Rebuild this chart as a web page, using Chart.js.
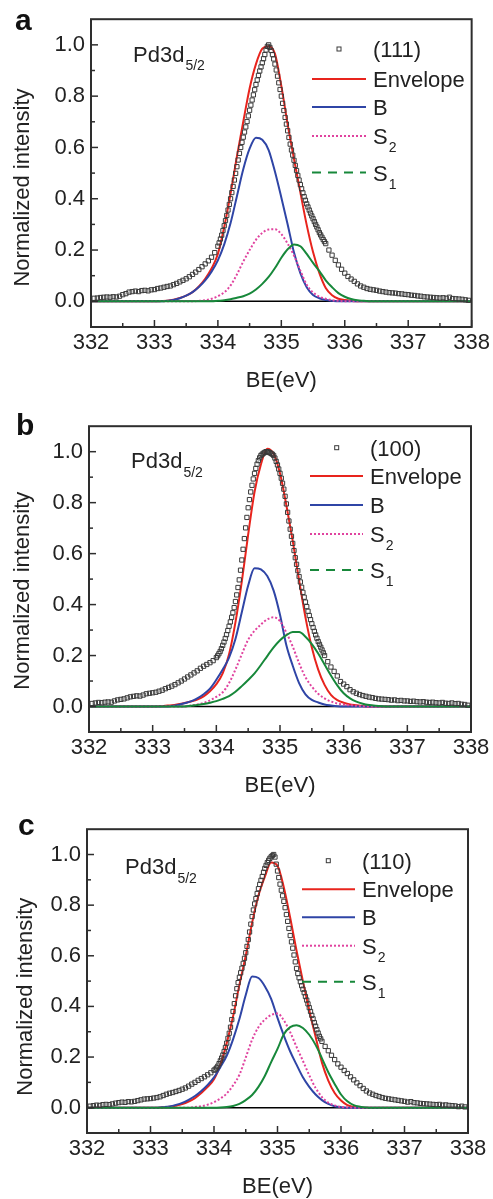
<!DOCTYPE html>
<html>
<head>
<meta charset="utf-8">
<script src="https://cdn.jsdelivr.net/npm/chart.js@4/dist/chart.umd.min.js"></script>
<style>
  html, body { margin: 0; padding: 0; background: #fff; }
  body { width: 493px; height: 1199px; position: relative; overflow: hidden; }
  canvas { position: absolute; left: 0; }
</style>
</head>
<body>
<canvas id="chartA" width="493" height="400" style="top:0px"></canvas>
<canvas id="chartB" width="493" height="400" style="top:407px"></canvas>
<canvas id="chartC" width="493" height="389" style="top:810px"></canvas>
<script>
// axis ticks
const xTicks = [332, 333, 334, 335, 336, 337, 338];
const xMinor = [332.5, 333.5, 334.5, 335.5, 336.5, 337.5];
const yTicks = [0, 0.2, 0.4, 0.6, 0.8, 1.0];
const yMinor = [0.1, 0.3, 0.5, 0.7, 0.9];

const panelLetters = ['a', 'b', 'c'];
const sampleNames = ['(111)', '(100)', '(110)'];
const curveNames = ['Envelope', 'B', 'S', 'S'];
const curveSubs = ['', '', '2', '1'];

// measured spectra (binding energy in eV), finer sampling across the peak
const measuredBE = [
  332.05, 332.10, 332.15, 332.20, 332.25, 332.30, 332.35, 332.40, 332.45, 332.50,
  332.55, 332.60, 332.65, 332.70, 332.75, 332.80, 332.85, 332.90, 332.95, 333.00,
  333.05, 333.10, 333.15, 333.20, 333.25, 333.30, 333.35, 333.40, 333.45, 333.50,
  333.55, 333.60, 333.65, 333.70, 333.75, 333.80, 333.85, 333.90, 333.95,
  334.00, 334.02, 334.04, 334.06, 334.08, 334.10, 334.12, 334.14, 334.16, 334.18,
  334.20, 334.22, 334.24, 334.26, 334.28, 334.30, 334.32, 334.34, 334.36, 334.38,
  334.40, 334.42, 334.44, 334.46, 334.48, 334.50, 334.52, 334.54, 334.56, 334.58,
  334.60, 334.62, 334.64, 334.66, 334.68, 334.70, 334.72, 334.74, 334.76, 334.78,
  334.80, 334.82, 334.84, 334.86, 334.88, 334.90, 334.92, 334.94, 334.96, 334.98,
  335.00, 335.02, 335.04, 335.06, 335.08, 335.10, 335.12, 335.14, 335.16, 335.18,
  335.20, 335.22, 335.24, 335.26, 335.28, 335.30, 335.32, 335.34, 335.36, 335.38,
  335.40, 335.42, 335.44, 335.46, 335.48, 335.50, 335.52, 335.54, 335.56, 335.58,
  335.60, 335.62, 335.64, 335.66, 335.68, 335.70,
  335.75, 335.80, 335.85, 335.90, 335.95, 336.00,
  336.05, 336.10, 336.15, 336.20, 336.25, 336.30, 336.35, 336.40, 336.45, 336.50,
  336.55, 336.60, 336.65, 336.70, 336.75, 336.80, 336.85, 336.90, 336.95, 337.00,
  337.05, 337.10, 337.15, 337.20, 337.25, 337.30, 337.35, 337.40, 337.45, 337.50,
  337.55, 337.60, 337.65, 337.70, 337.75, 337.80, 337.85, 337.90, 337.95
];

const measuredA = [
  0.012, 0.013, 0.015, 0.016, 0.017, 0.016, 0.018, 0.017, 0.020, 0.026,
  0.030, 0.036, 0.038, 0.040, 0.038, 0.042, 0.043, 0.041, 0.045, 0.046,
  0.050, 0.052, 0.055, 0.058, 0.060, 0.065, 0.070, 0.076, 0.082, 0.088,
  0.096, 0.105, 0.114, 0.124, 0.135, 0.146, 0.158, 0.172, 0.190,
  0.215, 0.228, 0.243, 0.258, 0.276, 0.295, 0.315, 0.335, 0.356, 0.378,
  0.400, 0.424, 0.448, 0.473, 0.499, 0.525, 0.551, 0.577, 0.600, 0.620,
  0.640, 0.660, 0.680, 0.701, 0.723, 0.745, 0.765, 0.785, 0.805, 0.825,
  0.845, 0.863, 0.881, 0.898, 0.914, 0.930, 0.946, 0.962, 0.980, 0.994,
  1.000, 0.990, 0.978, 0.962, 0.945, 0.925, 0.902, 0.878, 0.852, 0.826,
  0.800, 0.772, 0.744, 0.717, 0.691, 0.665, 0.639, 0.613, 0.590, 0.570,
  0.550, 0.530, 0.510, 0.491, 0.473, 0.455, 0.439, 0.423, 0.408, 0.394,
  0.380, 0.368, 0.356, 0.344, 0.333, 0.322, 0.311, 0.300, 0.290, 0.279,
  0.268, 0.259, 0.250, 0.241, 0.233, 0.225,
  0.200, 0.180, 0.160, 0.142, 0.125, 0.110,
  0.097, 0.087, 0.078, 0.068, 0.060, 0.055, 0.050, 0.047, 0.045, 0.043,
  0.040, 0.038, 0.036, 0.034, 0.033, 0.032, 0.030, 0.029, 0.027, 0.026,
  0.024, 0.023, 0.021, 0.020, 0.018, 0.017, 0.016, 0.015, 0.014, 0.013,
  0.014, 0.012, 0.016, 0.011, 0.010, 0.009, 0.008, 0.006, 0.004
];

const measuredB = [
  0.012, 0.014, 0.016, 0.015, 0.017, 0.018, 0.017, 0.022, 0.026, 0.028,
  0.030, 0.034, 0.038, 0.040, 0.042, 0.041, 0.045, 0.050, 0.052, 0.054,
  0.056, 0.060, 0.064, 0.070, 0.075, 0.080, 0.086, 0.093, 0.100, 0.108,
  0.116, 0.124, 0.132, 0.140, 0.150, 0.158, 0.165, 0.172, 0.180,
  0.192, 0.199, 0.207, 0.216, 0.227, 0.240, 0.253, 0.267, 0.282, 0.298,
  0.315, 0.332, 0.350, 0.368, 0.388, 0.412, 0.438, 0.467, 0.497, 0.535,
  0.575, 0.617, 0.659, 0.701, 0.742, 0.780, 0.812, 0.842, 0.868, 0.893,
  0.915, 0.934, 0.951, 0.965, 0.976, 0.985, 0.990, 0.994, 0.997, 1.000,
  1.000, 0.998, 0.996, 0.993, 0.990, 0.985, 0.975, 0.962, 0.948, 0.932,
  0.915, 0.896, 0.876, 0.853, 0.825, 0.795, 0.762, 0.728, 0.696, 0.668,
  0.640, 0.612, 0.584, 0.558, 0.533, 0.510, 0.489, 0.468, 0.448, 0.429,
  0.410, 0.392, 0.374, 0.357, 0.341, 0.325, 0.310, 0.295, 0.281, 0.268,
  0.255, 0.244, 0.233, 0.222, 0.211, 0.200,
  0.176, 0.155, 0.138, 0.120, 0.098, 0.088,
  0.078, 0.066, 0.058, 0.052, 0.047, 0.043, 0.040, 0.037, 0.035, 0.032,
  0.030, 0.029, 0.028, 0.027, 0.025, 0.026, 0.023, 0.024, 0.022, 0.022,
  0.020, 0.021, 0.019, 0.018, 0.019, 0.017, 0.016, 0.017, 0.015, 0.014,
  0.016, 0.013, 0.012, 0.014, 0.011, 0.012, 0.009, 0.008, 0.005
];

const measuredC = [
  0.006, 0.008, 0.010, 0.009, 0.012, 0.013, 0.012, 0.015, 0.018, 0.020,
  0.022, 0.021, 0.024, 0.023, 0.025, 0.028, 0.031, 0.034, 0.035, 0.036,
  0.038, 0.040, 0.043, 0.048, 0.053, 0.057, 0.060, 0.064, 0.068, 0.073,
  0.078, 0.085, 0.093, 0.100, 0.108, 0.115, 0.122, 0.130, 0.138,
  0.148, 0.152, 0.157, 0.164, 0.174, 0.185, 0.196, 0.208, 0.222, 0.238,
  0.255, 0.274, 0.294, 0.318, 0.348, 0.380, 0.411, 0.442, 0.470, 0.494,
  0.515, 0.533, 0.551, 0.570, 0.590, 0.612, 0.637, 0.664, 0.694, 0.725,
  0.755, 0.781, 0.805, 0.826, 0.846, 0.865, 0.882, 0.898, 0.913, 0.930,
  0.945, 0.957, 0.968, 0.977, 0.985, 0.991, 0.996, 1.000, 0.990, 0.962,
  0.935, 0.909, 0.883, 0.859, 0.837, 0.815, 0.790, 0.763, 0.736, 0.708,
  0.680, 0.655, 0.630, 0.603, 0.576, 0.550, 0.530, 0.513, 0.497, 0.482,
  0.468, 0.454, 0.439, 0.425, 0.410, 0.395, 0.380, 0.365, 0.351, 0.336,
  0.322, 0.308, 0.295, 0.282, 0.272, 0.262,
  0.242, 0.225, 0.207, 0.190, 0.173, 0.160,
  0.147, 0.135, 0.122, 0.110, 0.098, 0.087, 0.076, 0.066, 0.058, 0.053,
  0.048, 0.044, 0.040, 0.037, 0.035, 0.033, 0.031, 0.029, 0.027, 0.025,
  0.022, 0.024, 0.020, 0.019, 0.017, 0.016, 0.015, 0.014, 0.013, 0.012,
  0.013, 0.010, 0.011, 0.009, 0.008, 0.007, 0.004, 0.006, 0.003
];

// fitted components, all on the same energy grid
const fitBE = [
  332.0, 332.5, 333.0,
  333.1, 333.2, 333.3, 333.4, 333.5, 333.6, 333.7, 333.8, 333.9,
  334.0, 334.1, 334.2, 334.3, 334.4, 334.5, 334.6, 334.7, 334.8, 334.9,
  335.0, 335.1, 335.2, 335.3, 335.4, 335.5, 335.6, 335.7, 335.8, 335.9,
  336.0, 336.1, 336.2, 336.3, 336.4, 336.5, 336.6, 336.7,
  337.0, 337.5, 338.0
];

const envelopeA = [
  0, 0, 0,
  0.001, 0.002, 0.006, 0.013, 0.022, 0.036, 0.058, 0.088, 0.128,
  0.185, 0.290, 0.420, 0.565, 0.700, 0.830, 0.925, 0.985, 0.995, 0.965,
  0.840, 0.690, 0.555, 0.425, 0.298, 0.192, 0.110, 0.052, 0.024, 0.010,
  0.005, 0.002, 0, 0, 0, 0, 0, 0,
  0, 0, 0
];
const bulkA = [
  0, 0, 0,
  0, 0.002, 0.005, 0.012, 0.022, 0.036, 0.056, 0.082, 0.116,
  0.160, 0.222, 0.305, 0.410, 0.515, 0.595, 0.638, 0.630, 0.590, 0.505,
  0.405, 0.300, 0.190, 0.110, 0.055, 0.025, 0.012, 0.005, 0.002, 0,
  0, 0, 0, 0, 0, 0, 0, 0,
  0, 0, 0
];
const s2A = [
  0, 0, 0,
  0, 0, 0, 0, 0, 0, 0.002, 0.004, 0.010,
  0.020, 0.035, 0.062, 0.105, 0.155, 0.200, 0.240, 0.267, 0.280, 0.281,
  0.262, 0.225, 0.178, 0.120, 0.065, 0.035, 0.018, 0.010, 0.005, 0.002,
  0, 0, 0, 0, 0, 0, 0, 0,
  0, 0, 0
];
const s1A = [
  0, 0, 0,
  0, 0, 0, 0, 0, 0, 0, 0, 0,
  0.002, 0.004, 0.008, 0.014, 0.020, 0.030, 0.046, 0.068, 0.095, 0.130,
  0.170, 0.203, 0.222, 0.215, 0.185, 0.150, 0.118, 0.082, 0.055, 0.032,
  0.018, 0.009, 0.004, 0.002, 0, 0, 0, 0,
  0, 0, 0
];

const envelopeB = [
  0, 0, 0,
  0.001, 0.003, 0.005, 0.009, 0.014, 0.020, 0.027, 0.040, 0.060,
  0.088, 0.130, 0.205, 0.330, 0.490, 0.675, 0.842, 0.950, 1.012, 0.992,
  0.915, 0.790, 0.650, 0.495, 0.350, 0.232, 0.145, 0.085, 0.046, 0.025,
  0.015, 0.008, 0.005, 0.002, 0, 0, 0, 0,
  0, 0, 0
];
const bulkB = [
  0, 0, 0,
  0, 0, 0.002, 0.006, 0.013, 0.020, 0.032, 0.048, 0.070,
  0.105, 0.145, 0.192, 0.265, 0.370, 0.475, 0.543, 0.538, 0.512, 0.455,
  0.360, 0.240, 0.160, 0.092, 0.048, 0.026, 0.016, 0.008, 0.004, 0.001,
  0, 0, 0, 0, 0, 0, 0, 0,
  0, 0, 0
];
const s2B = [
  0, 0, 0,
  0, 0, 0, 0, 0, 0.004, 0.008, 0.014, 0.024,
  0.038, 0.056, 0.092, 0.145, 0.205, 0.262, 0.297, 0.322, 0.342, 0.350,
  0.335, 0.290, 0.235, 0.170, 0.115, 0.078, 0.050, 0.032, 0.020, 0.012,
  0.008, 0.005, 0.003, 0.001, 0, 0, 0, 0,
  0, 0, 0
];
const s1B = [
  0, 0, 0,
  0, 0, 0, 0, 0, 0.003, 0.006, 0.010, 0.015,
  0.021, 0.030, 0.041, 0.058, 0.080, 0.104, 0.130, 0.163, 0.198, 0.232,
  0.260, 0.280, 0.292, 0.292, 0.274, 0.245, 0.208, 0.165, 0.122, 0.083,
  0.052, 0.032, 0.019, 0.011, 0.006, 0.003, 0.001, 0,
  0, 0, 0
];

const envelopeC = [
  0, 0, 0,
  0, 0.002, 0.004, 0.008, 0.014, 0.024, 0.038, 0.058, 0.082,
  0.112, 0.170, 0.255, 0.360, 0.485, 0.600, 0.730, 0.838, 0.912, 0.968,
  0.955, 0.870, 0.750, 0.620, 0.500, 0.385, 0.280, 0.178, 0.107, 0.058,
  0.028, 0.010, 0.003, 0.001, 0, 0, 0, 0,
  0, 0, 0
];
const bulkC = [
  0, 0, 0,
  0, 0.002, 0.005, 0.011, 0.019, 0.031, 0.046, 0.066, 0.090,
  0.120, 0.160, 0.205, 0.270, 0.350, 0.445, 0.518, 0.512, 0.480, 0.430,
  0.355, 0.285, 0.222, 0.170, 0.120, 0.082, 0.052, 0.030, 0.015, 0.006,
  0.002, 0, 0, 0, 0, 0, 0, 0,
  0, 0, 0
];
const s2C = [
  0, 0, 0,
  0, 0, 0, 0, 0, 0, 0.003, 0.006, 0.012,
  0.022, 0.036, 0.056, 0.088, 0.130, 0.198, 0.268, 0.318, 0.348, 0.366,
  0.372, 0.345, 0.298, 0.240, 0.185, 0.128, 0.078, 0.042, 0.020, 0.009,
  0.003, 0.001, 0, 0, 0, 0, 0, 0,
  0, 0, 0
];
const s1C = [
  0, 0, 0,
  0, 0, 0, 0, 0, 0, 0, 0, 0,
  0, 0.001, 0.003, 0.007, 0.015, 0.030, 0.050, 0.082, 0.125, 0.180,
  0.232, 0.290, 0.318, 0.326, 0.315, 0.288, 0.248, 0.195, 0.140, 0.094,
  0.052, 0.025, 0.010, 0.004, 0.001, 0, 0, 0,
  0, 0, 0
];

// styles
const FONT = "'Liberation Sans', Arial, Helvetica, sans-serif";
const INK = '#222';
const FRAME = '#2e2e2e';
const curveColors = ['#e8241d', '#2f45a6', '#e0439f', '#17883a'];
const plotDash = [[], [], [2, 2], []];
const legendDash = [[], [], [2, 2], [9, 7]];

// page geometry for each panel (px inside its canvas)
const panels = [
  { id: 'chartA', w: 493, h: 400, area: { left: 91, right: 472, top: 15, bottom: 327 },
    letter: [15, 30], tag: [133, 61.5], yTitle: [22.5, 187.5], xTitleY: 386.5,
    legend: { sym: 339, x0: 312, x1: 366, tx: 373, rows: [49, 79, 107, 136, 172.5] },
    measured: measuredA, fits: [envelopeA, bulkA, s2A, s1A] },
  { id: 'chartB', w: 493, h: 400, area: { left: 89, right: 471, top: 15, bottom: 325 },
    letter: [16, 28], tag: [131, 61.3], yTitle: [23, 183.7], xTitleY: 384.7,
    legend: { sym: 336.7, x0: 310, x1: 363, tx: 370, rows: [40.7, 69, 98, 127, 163] },
    measured: measuredB, fits: [envelopeB, bulkB, s2B, s1B] },
  { id: 'chartC', w: 493, h: 389, area: { left: 87, right: 468, top: 15, bottom: 323 },
    letter: [18, 25], tag: [125, 64], yTitle: [26, 186.7], xTitleY: 383.3,
    legend: { sym: 328.3, x0: 302, x1: 355, tx: 362, rows: [50.7, 79.3, 107.3, 135.7, 171.7] },
    measured: measuredC, fits: [envelopeC, bulkC, s2C, s1C] }
];

function seg(ctx, x0, y0, x1, y1) {
  ctx.beginPath();
  ctx.moveTo(x0, y0);
  ctx.lineTo(x1, y1);
  ctx.stroke();
}

function makeDecor(p, i) {
  return {
    id: 'decor' + i,
    beforeDatasetsDraw(chart) {
      // zero line under the curves
      const { ctx, chartArea: a, scales: { y } } = chart;
      const y0 = y.getPixelForValue(0);
      ctx.save();
      ctx.strokeStyle = '#000';
      ctx.lineWidth = 1.5;
      seg(ctx, a.left, y0, a.right, y0);
      ctx.restore();
    },
    afterDatasetsDraw(chart) {
      const { ctx, chartArea: a, scales: { x, y } } = chart;
      ctx.save();

      // frame + inward ticks
      ctx.strokeStyle = FRAME;
      ctx.lineWidth = 2;
      ctx.strokeRect(a.left, a.top, a.right - a.left, a.bottom - a.top);
      ctx.lineWidth = 1.5;
      xTicks.forEach(v => { const px = x.getPixelForValue(v); seg(ctx, px, a.bottom, px, a.bottom - 7); });
      xMinor.forEach(v => { const px = x.getPixelForValue(v); seg(ctx, px, a.bottom, px, a.bottom - 4); });
      yTicks.forEach(v => { const py = y.getPixelForValue(v); seg(ctx, a.left, py, a.left + 7, py); });
      yMinor.forEach(v => { const py = y.getPixelForValue(v); seg(ctx, a.left, py, a.left + 4, py); });

      ctx.fillStyle = INK;
      ctx.textAlign = 'left';
      ctx.textBaseline = 'alphabetic';

      // legend
      const L = p.legend;
      ctx.strokeStyle = '#3a3a3a';
      ctx.lineWidth = 1;
      ctx.strokeRect(L.sym - 2, L.rows[0] - 2, 4, 4);
      ctx.font = '22px ' + FONT;
      ctx.fillText(sampleNames[i], L.tx, L.rows[0] + 8);
      curveNames.forEach((name, k) => {
        const ry = L.rows[k + 1];
        ctx.strokeStyle = curveColors[k];
        ctx.lineWidth = 2;
        ctx.setLineDash(legendDash[k]);
        seg(ctx, L.x0, ry, L.x1, ry);
        ctx.setLineDash([]);
        ctx.font = '22px ' + FONT;
        ctx.fillText(name, L.tx, ry + 8);
        if (curveSubs[k]) {
          const w = ctx.measureText(name).width;
          ctx.font = '14px ' + FONT;
          ctx.fillText(curveSubs[k], L.tx + w + 1, ry + 16);
        }
      });

      // Pd3d5/2 tag
      ctx.font = '22px ' + FONT;
      ctx.fillText('Pd3d', p.tag[0], p.tag[1]);
      const tw = ctx.measureText('Pd3d').width;
      ctx.font = '14px ' + FONT;
      ctx.fillText('5/2', p.tag[0] + tw + 1, p.tag[1] + 8.5);

      // axis titles
      ctx.font = '22px ' + FONT;
      ctx.textAlign = 'center';
      ctx.fillText('BE(eV)', (a.left + a.right) / 2, p.xTitleY);
      ctx.save();
      ctx.translate(p.yTitle[0], p.yTitle[1]);
      ctx.rotate(-Math.PI / 2);
      ctx.textBaseline = 'middle';
      ctx.fillText('Normalized intensity', 0, 0);
      ctx.restore();

      // panel letter
      ctx.textAlign = 'left';
      ctx.font = 'bold 30px ' + FONT;
      ctx.fillStyle = '#111';
      ctx.fillText(panelLetters[i], p.letter[0], p.letter[1]);

      ctx.restore();
    }
  };
}

panels.forEach((p, i) => {
  const datasets = [{
    label: sampleNames[i],
    data: measuredBE.map((v, k) => ({ x: v, y: p.measured[k] })),
    showLine: false,
    pointStyle: 'rect',
    pointRadius: 3,
    pointBorderWidth: 1,
    pointBorderColor: '#3a3a3a',
    pointBackgroundColor: 'rgba(255,255,255,0)'
  }];
  // S1 drawn above S2, B and the envelope
  [3, 2, 1, 0].forEach(k => {
    datasets.push({
      label: curveNames[k] + curveSubs[k],
      data: fitBE.map((v, n) => ({ x: v, y: p.fits[k][n] })),
      borderColor: curveColors[k],
      borderWidth: 2,
      borderDash: plotDash[k],
      pointRadius: 0,
      fill: false,
      cubicInterpolationMode: 'monotone'
    });
  });

  new Chart(document.getElementById(p.id), {
    type: 'line',
    data: { datasets },
    options: {
      responsive: false,
      animation: false,
      devicePixelRatio: 1,
      events: [],
      layout: { padding: { left: 0, top: p.area.top, right: p.w - p.area.right, bottom: 0 } },
      plugins: { legend: { display: false }, tooltip: { enabled: false } },
      scales: {
        x: {
          type: 'linear', min: 332, max: 338,
          afterBuildTicks: s => { s.ticks = xTicks.map(v => ({ value: v })); },
          afterFit: s => { s.height = p.h - p.area.bottom; },
          grid: { display: false, drawTicks: false },
          border: { display: false },
          ticks: { padding: 3, color: INK, autoSkip: false, maxRotation: 0,
                   font: { family: FONT, size: 22 }, callback: v => String(v) }
        },
        y: {
          type: 'linear', min: -0.1, max: 1.1,
          afterBuildTicks: s => { s.ticks = yTicks.map(v => ({ value: v })); },
          afterFit: s => { s.width = p.area.left; },
          grid: { display: false, drawTicks: false },
          border: { display: false },
          ticks: { padding: 6, color: INK, font: { family: FONT, size: 22 },
                   callback: v => Number(v).toFixed(1) }
        }
      }
    },
    plugins: [makeDecor(p, i)]
  });
});
</script>
</body>
</html>
